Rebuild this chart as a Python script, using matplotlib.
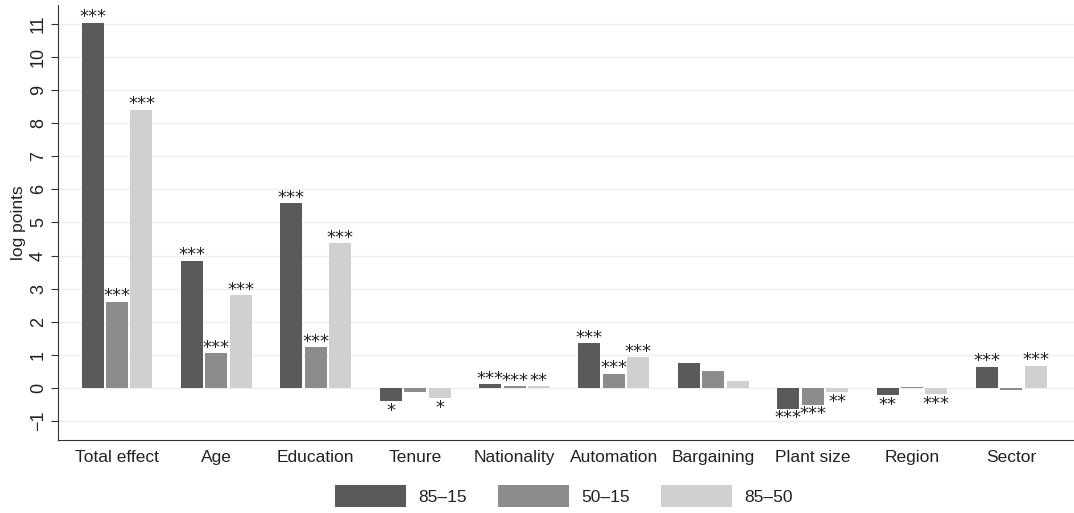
import numpy as np
import matplotlib
matplotlib.use("Agg")
import matplotlib.pyplot as plt

plt.rcParams["font.family"] = ["Liberation Sans", "DejaVu Sans"]

categories = ["Total effect", "Age", "Education", "Tenure", "Nationality",
              "Automation", "Bargaining", "Plant size", "Region", "Sector"]
series = ["85\u201315", "50\u201315", "85\u201350"]
v_85_15 = [11.02, 3.85, 5.58, -0.39, 0.11, 1.35, 0.75, -0.62, -0.22, 0.65]
v_50_15 = [2.60, 1.05, 1.23, -0.11, 0.05, 0.42, 0.51, -0.50, 0.03, -0.07]
v_85_50 = [8.41, 2.80, 4.37, -0.30, 0.05, 0.93, 0.20, -0.13, -0.19, 0.68]
s_85_15 = ["***", "***", "***", "*", "***", "***", "", "***", "**", "***"]
s_50_15 = ["***", "***", "***", "", "***", "***", "", "***", "", ""]
s_85_50 = ["***", "***", "***", "*", "**", "***", "", "**", "***", "***"]

colors = ["#5a5a5a", "#8c8c8c", "#d0d0d0"]
values = [v_85_15, v_50_15, v_85_50]
stars = [s_85_15, s_50_15, s_85_50]

fig = plt.figure(figsize=(10.74, 5.13), dpi=100)
ax = fig.add_axes([0.054, 0.1423, 0.946, 0.848])

x = np.arange(len(categories))
w = 0.221
off = 0.246
for k in range(3):
    xs = x + (k - 1) * off
    ax.bar(xs, values[k], width=w, color=colors[k], label=series[k], zorder=2)
    for xi, v, s in zip(xs, values[k], stars[k]):
        if not s:
            continue
        # stars above positive bars, below negative ones
        dy = 0.5 if v >= 0 else -10.5
        ax.annotate(s, (xi, v), xytext=(0, dy), textcoords="offset points",
                    ha="center", va="baseline", fontsize=13, color="#222222",
                    family="DejaVu Sans")

ax.set_xlim(-0.594, 9.63)
ax.set_ylim(-1.57, 11.57)
ax.set_yticks(range(-1, 12))
ax.set_yticklabels(["\u22121"] + [str(i) for i in range(0, 12)], rotation=90, va="center")
ax.set_xticks(x)
ax.set_xticklabels(categories)
ax.tick_params(axis="x", length=0, pad=7, labelsize=12.5, labelcolor="#222222")
ax.tick_params(axis="y", length=5, width=0.8, pad=3, labelsize=13, color="#333333",
               labelcolor="#222222")
ax.set_ylabel("log points", fontsize=12.5, labelpad=3, color="#222222")
ax.grid(axis="y", color="#efefef", linewidth=1, zorder=0)
ax.set_axisbelow(True)
for sp in ["top", "right"]:
    ax.spines[sp].set_visible(False)
ax.spines["left"].set_color("#333333")
ax.spines["bottom"].set_color("#333333")

leg = fig.legend(loc="center", bbox_to_anchor=(0.525, 0.033), ncol=3, frameon=False,
                 fontsize=12.5, handlelength=4.1, handleheight=1.6, columnspacing=1.8,
                 handletextpad=0.7, borderpad=0)
for t in leg.get_texts():
    t.set_color("#222222")

fig.savefig("out.png", dpi=100)
